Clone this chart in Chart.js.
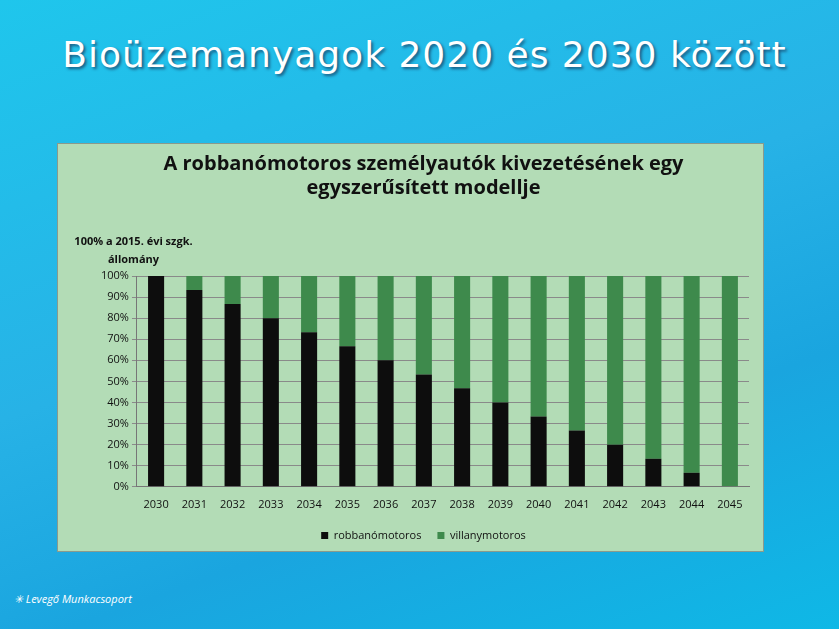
<!DOCTYPE html>
<html><head><meta charset="utf-8">
<script src="https://cdn.jsdelivr.net/npm/chart.js@4"></script>
<style>
body{margin:0;width:839px;height:629px;overflow:hidden;font-family:"Liberation Sans",sans-serif;
background:linear-gradient(160deg,#1fc6ec 0%,#27b2e6 45%,#1aa5df 70%,#0fb8e6 100%);position:relative}
#title{position:absolute;top:34px;left:0;width:849px;text-align:center;color:#fff;font:36px "DejaVu Sans",sans-serif;letter-spacing:1px;text-shadow:2px 2px 3px #1a5a80}
#box{position:absolute;left:57px;top:143px;width:705px;height:407px;background:#b3dcb6;border:1px solid #8a9a8c}
#c{position:absolute;left:0;top:0}
#ylab{position:absolute;left:8px;top:88px;width:135px;text-align:center;font:bold 11px "Open Sans",sans-serif;line-height:18px;color:#111}
#logo{position:absolute;left:14px;top:591px;color:#fff;font:italic 11px "Open Sans",sans-serif}
</style></head><body>
<div id="title">Bioüzemanyagok 2020 és 2030 között</div>
<div id="box"><canvas id="c" width="705" height="407"></canvas><div id="ylab">100% a 2015. évi szgk.<br>állomány</div></div>
<div id="logo">✳ Levegő Munkacsoport</div>
<script>
const years = ['2030','2031','2032','2033','2034','2035','2036','2037','2038','2039','2040','2041','2042','2043','2044','2045'];
const robbano = [100,93.3,86.7,80,73.3,66.7,60,53.3,46.7,40,33.3,26.7,20,13.3,6.7,0];
const villany = [0,6.7,13.3,20,26.7,33.3,40,46.7,53.3,60,66.7,73.3,80,86.7,93.3,100];
const ticks = [0,10,20,30,40,50,60,70,80,90,100];

new Chart(document.getElementById('c'), {
  type: 'bar',
  data: { labels: years, datasets: [
    { label: 'robbanómotoros', data: robbano, backgroundColor: '#0d0d0d', barPercentage: 0.42, categoryPercentage: 1 },
    { label: 'villanymotoros', data: villany, backgroundColor: '#3e8a4c', barPercentage: 0.42, categoryPercentage: 1 }
  ]},
  options: {
    responsive: false, animation: false,
    layout: { padding: { top: 0, right: 14, bottom: 0, left: 40 } },
    plugins: {
      title: { display: true, text: ['A robbanómotoros személyautók kivezetésének egy','egyszerűsített modellje'],
        color: '#111', font: { family: 'Open Sans', size: 20, weight: 'bold' }, padding: { top: 8, bottom: 76 }, lineHeight: 1.5 },
      legend: { position: 'bottom', labels: { boxWidth: 7, boxHeight: 7, color: '#111', font: { family: 'Open Sans', size: 11 }, padding: 16 } },
      tooltip: { enabled: false }
    },
    scales: {
      x: { stacked: true, grid: { display: false }, border: { color: '#777' },
        ticks: { color: '#111', font: { family: 'Open Sans', size: 11 }, maxRotation: 0 } },
      y: { stacked: true, min: 0, max: 100, afterBuildTicks: a => { a.ticks = ticks.map(v => ({ value: v })); },
        grid: { color: '#8a8a8a', drawTicks: true, tickLength: 5 }, border: { color: '#777' },
        ticks: { color: '#111', font: { family: 'Open Sans', size: 11 }, callback: v => v + '%' } }
    }
  }
});
</script>
</body></html>
